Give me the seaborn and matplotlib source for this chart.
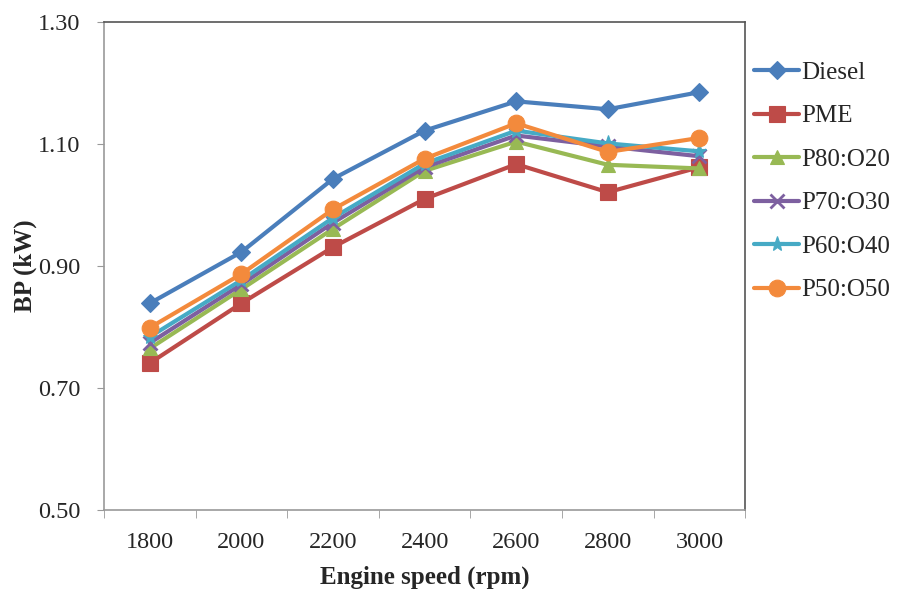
import matplotlib
matplotlib.use("Agg")
import matplotlib.pyplot as plt
import pandas as pd
import seaborn as sns

# values
speeds = [1800, 2000, 2200, 2400, 2600, 2800, 3000]
diesel = [0.839, 0.923, 1.043, 1.122, 1.170, 1.157, 1.185]
pme = [0.741, 0.839, 0.931, 1.010, 1.067, 1.021, 1.062]
p80_o20 = [0.765, 0.862, 0.961, 1.056, 1.104, 1.066, 1.060]
p70_o30 = [0.774, 0.870, 0.971, 1.062, 1.114, 1.096, 1.080]
p60_o40 = [0.784, 0.877, 0.979, 1.068, 1.122, 1.101, 1.088]
p50_o50 = [0.799, 0.887, 0.993, 1.076, 1.134, 1.087, 1.110]

fuels = ["Diesel", "PME", "P80:O20", "P70:O30", "P60:O40", "P50:O50"]
series = [diesel, pme, p80_o20, p70_o30, p60_o40, p50_o50]
colors = ["#4A7EBB", "#BE4B48", "#98B954", "#7D60A0", "#46AAC5", "#F38A3C"]
markers = ["D", "s", "^", "x", "*", "o"]
sizes = [9, 11, 10, 10, 11, 12]

rows = []
for fuel, vals in zip(fuels, series):
    for s, v in zip(speeds, vals):
        rows.append({"fuel": fuel, "speed": s, "bp": v})
df = pd.DataFrame(rows)

sns.set_style("white")
plt.rcParams["font.family"] = ["Liberation Serif", "DejaVu Serif"]

fig = plt.figure(figsize=(9, 5.89), dpi=100)
ax = fig.add_axes([0.1156, 0.134, 0.7124, 0.8286])

for fuel, color, mk, ms in zip(fuels, colors, markers, sizes):
    sub = df[df["fuel"] == fuel]
    sns.lineplot(
        data=sub, x="speed", y="bp", ax=ax, color=color, linewidth=3,
        marker=mk, markersize=ms, markeredgewidth=2 if mk == "x" else 0.8,
        markeredgecolor=color, label=fuel,
    )

ax.set_xlim(1700, 3100)
ax.set_ylim(0.5, 1.3)
ax.set_xticks(speeds)
ax.set_xticklabels([str(s) for s in speeds])
ax.set_xticks([1700, 1900, 2100, 2300, 2500, 2700, 2900, 3100], minor=True)
ax.set_yticks([0.5, 0.7, 0.9, 1.1, 1.3])
ax.set_yticklabels(["0.50", "0.70", "0.90", "1.10", "1.30"])
ax.tick_params(axis="x", which="major", length=0, labelsize=17.5, pad=16)
ax.tick_params(axis="x", which="minor", length=6, color="#999999", direction="out", bottom=True)
ax.tick_params(axis="y", length=5, color="#999999", direction="out", left=True, labelsize=17.5, pad=12)

for side in ("left", "bottom"):
    ax.spines[side].set_color("#999999")
    ax.spines[side].set_linewidth(1.2)
for side in ("top", "right"):
    ax.spines[side].set_color("#555555")
    ax.spines[side].set_linewidth(1.2)

ax.set_xlabel("Engine speed (rpm)", fontsize=18, fontweight="bold")
ax.set_ylabel("BP (kW)", fontsize=18, fontweight="bold")
ax.xaxis.set_label_coords(0.5, -0.114)
ax.yaxis.set_label_coords(-0.104, 0.5)

ax.get_legend().remove()
handles, labels = ax.get_legend_handles_labels()
fig.legend(
    handles, labels, loc="center left", bbox_to_anchor=(0.838, 0.692),
    frameon=False, fontsize=18, labelspacing=0.84, handlelength=1.8,
    handletextpad=0.1, borderpad=0, borderaxespad=0,
)

fig.savefig("out.png", dpi=100)
